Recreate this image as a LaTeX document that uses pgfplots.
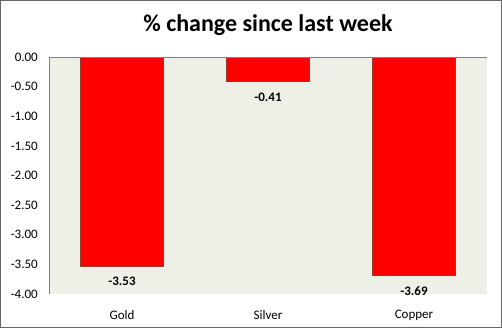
\documentclass[border=0pt]{standalone}
\usepackage{pgfplots}
\pgfplotsset{compat=1.18}
\usepackage{fontspec}
\setmainfont{Carlito}
\definecolor{bgc}{RGB}{238,240,232}
\definecolor{barred}{RGB}{255,0,0}
\definecolor{baredge}{RGB}{150,60,40}
\begin{document}
\begin{tikzpicture}
\useasboundingbox (-49bp,-34bp) rectangle (453bp,294bp);
\draw[gray!80!black, line width=1bp] (-48.5bp,-33.5bp) rectangle (452.5bp,293.5bp);
\node[font=\fontsize{24bp}{28bp}\selectfont\bfseries] at (219bp,269bp) {\% change since last week};
\begin{axis}[
  at={(0,0)}, anchor=south west,
  scale only axis,
  width=438bp, height=237bp,
  ybar, bar width=83bp,
  xmin=-0.5, xmax=2.5,
  ymin=-4, ymax=0,
  xtick={0,1,2},
  xticklabels={Gold,Silver,Copper},
  ytick={-4,-3.5,-3,-2.5,-2,-1.5,-1,-0.5,0},
  axis line style={draw=none},
  tick style={draw=none},
  axis background/.style={fill=bgc},
  /pgf/number format/assume math mode=true,
  yticklabel style={/pgf/number format/.cd, fixed, fixed zerofill, precision=2, /tikz/.cd,
     font=\fontsize{13bp}{15bp}\selectfont, inner sep=0pt, anchor=east, xshift=-11bp},
  xticklabel style={font=\fontsize{13bp}{15bp}\selectfont, inner sep=0pt, anchor=center, yshift=-17bp},
  nodes near coords,
  every node near coord/.append style={font=\fontsize{13bp}{15bp}\selectfont\bfseries, anchor=center, yshift=-15.5bp,
     /pgf/number format/.cd, fixed, fixed zerofill, precision=2, assume math mode=true},
  clip=false,
]
\addplot[fill=barred, draw=baredge, line width=0.6bp] coordinates {(0,-3.53) (1,-0.41) (2,-3.69)};
\draw[gray, line width=0.8bp] (rel axis cs:0,0) -- (rel axis cs:0,1) -- (rel axis cs:1,1);
\end{axis}
\end{tikzpicture}
\end{document}
